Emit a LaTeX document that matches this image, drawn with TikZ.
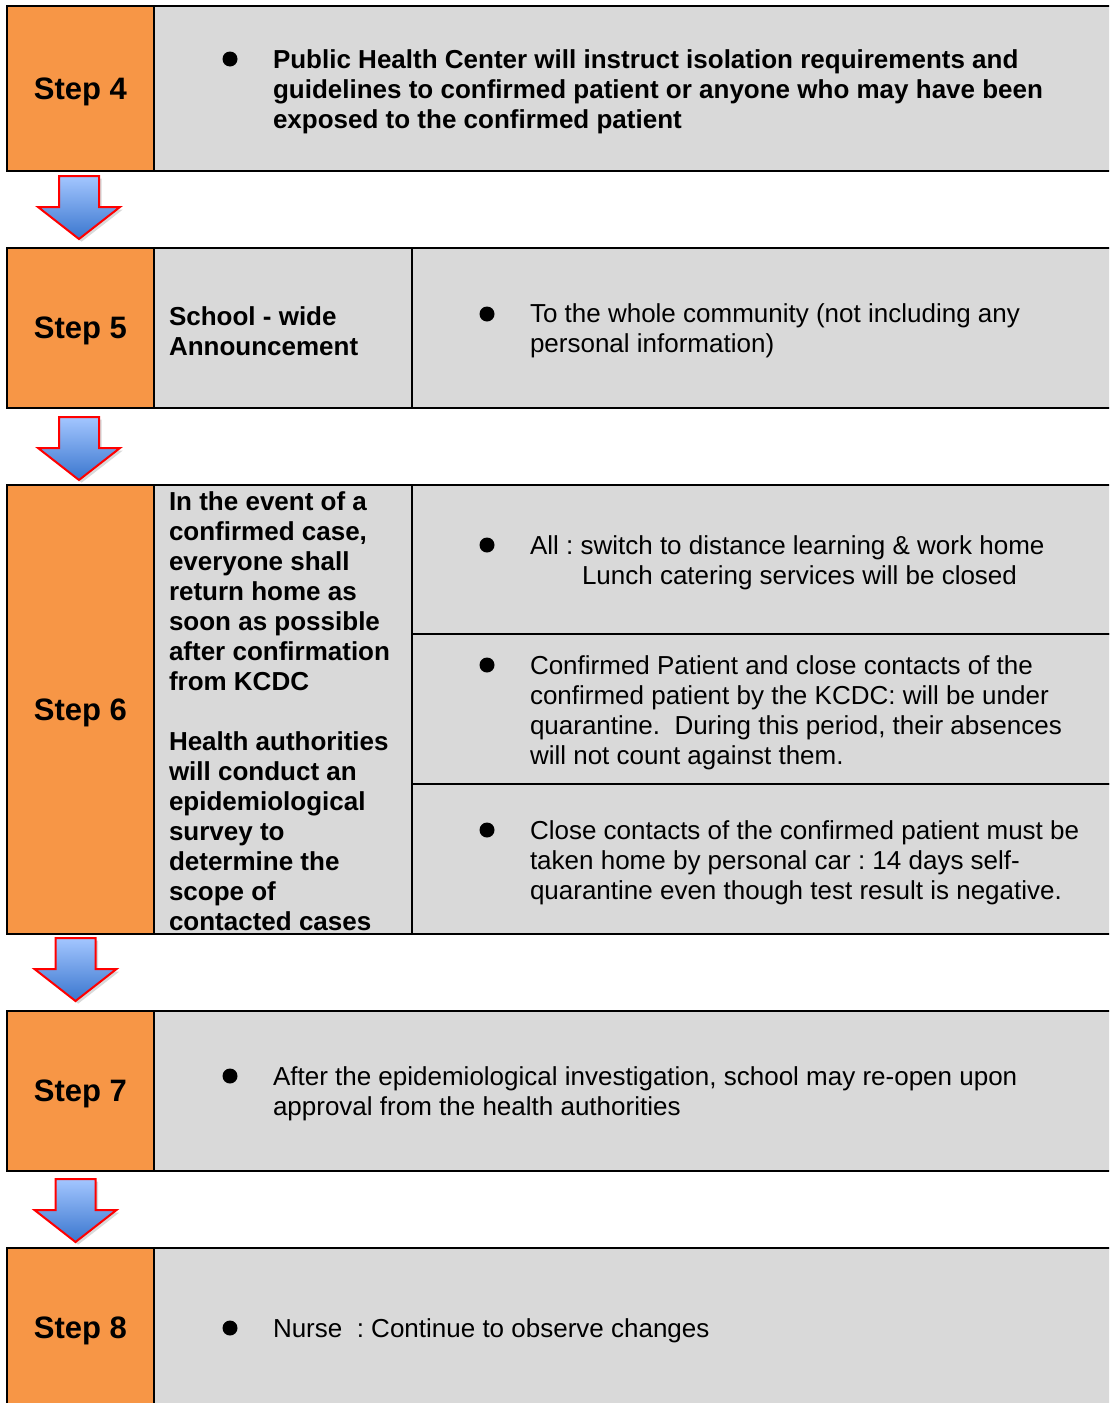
\documentclass[tikz,border=0pt]{standalone}
\usepackage{fontspec}
\setmainfont{Liberation Sans}
\usetikzlibrary{positioning, shadows}
\definecolor{steporange}{HTML}{F79646}
\definecolor{cellgray}{HTML}{D9D9D9}
\definecolor{arrowtop}{HTML}{A3C6FF}
\definecolor{arrowbot}{HTML}{3A76CE}
\frenchspacing
\tikzset{
    every node/.style={inner sep=0pt, outer sep=0pt},
    stepbox/.style={draw, line width=2pt, fill=steporange, minimum width=147pt, text depth=0pt,
        font=\fontsize{31}{36}\selectfont\bfseries},
    cellbox/.style={draw, line width=2pt, fill=cellgray},
    txt/.style={anchor=west, align=left, font=\fontsize{26}{30}\selectfont},
    btxt/.style={txt, font=\fontsize{26}{30}\selectfont\bfseries},
    dot/.style={circle, fill=black, minimum size=15pt},
    blockarrow/.pic={
        \draw[draw=red, line width=2pt, top color=arrowtop, bottom color=arrowbot,
            drop shadow={opacity=0.3}]
            (-20,0) -- (20,0) -- (20,31) -- (41,31) -- (0,63) -- (-41,31) -- (-20,31) -- cycle;
    },
}

\begin{document}
\begin{tikzpicture}[x=1pt, y=-1pt]
    \useasboundingbox (0,0) rectangle (1109,1403);
    \clip (0,0) rectangle (1109,1403);

    % step 4
    \node[stepbox, minimum height=165pt, anchor=north west] (s4) at (7,6) {Step 4};
    \node[cellbox, minimum width=958pt, minimum height=165pt, right=0pt of s4] (c4) {};
    \node[dot] (d4) at (230,59) {};
    \node[btxt] (t4) at (273,91.5) {Public Health Center will instruct isolation requirements and\\
        guidelines to confirmed patient or anyone who may have been\\
        exposed to the confirmed patient};

    % step 5
    \node[stepbox, minimum height=160pt, anchor=north west] (s5) at (7,248) {Step 5};
    \node[cellbox, minimum width=258pt, minimum height=160pt, right=0pt of s5] (m5) {};
    \node[cellbox, minimum width=700pt, minimum height=160pt, right=0pt of m5] (c5) {};
    \node[btxt] (a5) at (169,331) {School - wide\\Announcement};
    \node[dot] (d5) at (487,314) {};
    \node[txt] (t5) at (530,331) {To the whole community (not including any\\
        personal information)};

    % step 6
    \node[stepbox, minimum height=449pt, anchor=north west] (s6) at (7,485) {Step 6};
    \node[cellbox, minimum width=258pt, minimum height=449pt, right=0pt of s6] (m6) {};
    \node[cellbox, minimum width=700pt, minimum height=149pt, anchor=north west] (r6a) at (m6.north east) {};
    \node[cellbox, minimum width=700pt, minimum height=150pt, below=0pt of r6a] (r6b) {};
    \node[cellbox, minimum width=700pt, minimum height=150pt, below=0pt of r6b] (r6c) {};
    \node[btxt] (a6) at (169,711.5) {In the event of a\\confirmed case,\\everyone shall\\return home as\\
        soon as possible\\after confirmation\\from KCDC\\[30pt]
        Health authorities\\will conduct an\\epidemiological\\survey to\\determine the\\scope of\\contacted cases};
    \node[dot] (d6a) at (487,545) {};
    \node[txt] (t6a) at (530,563) {All : switch to distance learning \& work home\\
        \hspace*{52pt}Lunch catering services will be closed};
    \node[dot] (d6b) at (487,665) {};
    \node[txt] (t6b) at (530,712.5) {Confirmed Patient and close contacts of the\\
        confirmed patient by the KCDC: will be under\\
        quarantine.\ \ During this period, their absences\\
        will not count against them.};
    \node[dot] (d6c) at (487,830) {};
    \node[txt] (t6c) at (530,862.5) {Close contacts of the confirmed patient must be\\
        taken home by personal car : 14 days self-\\
        quarantine even though test result is negative.};

    % step 7
    \node[stepbox, minimum height=160pt, anchor=north west] (s7) at (7,1011) {Step 7};
    \node[cellbox, minimum width=958pt, minimum height=160pt, right=0pt of s7] (c7) {};
    \node[dot] (d7) at (230,1076) {};
    \node[txt] (t7) at (273,1094) {After the epidemiological investigation, school may re-open upon\\
        approval from the health authorities};

    % step 8
    \node[stepbox, minimum height=160pt, anchor=north west] (s8) at (7,1248) {Step 8};
    \node[cellbox, minimum width=958pt, minimum height=160pt, right=0pt of s8] (c8) {};
    \node[dot] (d8) at (230,1328) {};
    \node[txt] (t8) at (273,1331) {Nurse\ \ : Continue to observe changes};

    % arrows between the steps
    \pic at (79,176) {blockarrow};
    \pic at (79,417) {blockarrow};
    \pic at (75.5,938) {blockarrow};
    \pic at (75.5,1179) {blockarrow};
\end{tikzpicture}
\end{document}
